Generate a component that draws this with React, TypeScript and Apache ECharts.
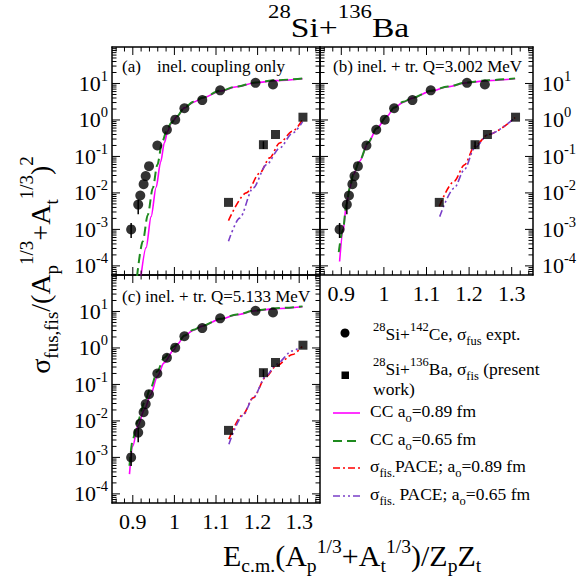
import React, { useEffect, useRef } from 'react';
import * as echarts from 'echarts';

const FONT = "'Liberation Serif', 'Times New Roman', Times, serif";

// ---------- axis ranges and ticks ----------
const X_MIN = 0.85;
const X_MAX = 1.35;
const Y_MIN = Math.pow(10, -4.25);
const Y_MAX = 100;
const X_MAJOR_TICKS = [0.9, 1.0, 1.1, 1.2, 1.3];
const X_MINOR_TICKS = [0.86, 0.88, 0.92, 0.94, 0.96, 0.98, 1.02, 1.04, 1.06, 1.08, 1.12, 1.14, 1.16, 1.18, 1.22, 1.24, 1.26, 1.28, 1.32, 1.34];
const Y_MAJOR_TICKS = [1e-4, 1e-3, 1e-2, 1e-1, 1, 10];
const Y_MINOR_MANTISSA = [2, 3, 4, 5, 6, 7, 8, 9];
const Y_DECADES = [-5, -4, -3, -2, -1, 0, 1];

// ---------- experimental data ----------
// 28Si+142Ce fusion (circles)
const FUS_X = [0.896, 0.913, 0.918, 0.926, 0.931, 0.939, 0.959, 0.982, 1.002, 1.024, 1.067, 1.110, 1.195, 1.237];
const FUS_Y = [1.0e-3, 4.8e-3, 8.5e-3, 1.74e-2, 2.9e-2, 5.4e-2, 0.20, 0.54, 1.02, 2.1, 3.5, 6.5, 10.4, 9.4];
const FUS_ERR_X = [0.896, 0.913];
const FUS_ERR_LO = [5.8e-4, 2.6e-3];
const FUS_ERR_HI = [1.5e-3, 6.5e-3];
// 28Si+136Ba fission (squares)
const FIS_X = [1.130, 1.214, 1.243, 1.309];
const FIS_Y = [5.5e-3, 0.21, 0.40, 1.19];
const FIS_ERR_X = [1.214];
const FIS_ERR_LO = [0.16];
const FIS_ERR_HI = [0.26];

// ---------- CC calculations ----------
const CC_HI_X = [1.007, 1.024, 1.046, 1.067, 1.110, 1.150, 1.195, 1.245, 1.308];
const CC089_HI_Y = [1.26, 2.14, 3.09, 3.98, 6.17, 8.13, 10.5, 12.0, 13.5];
const CC065_HI_Y = [1.29, 2.19, 3.16, 4.07, 6.3, 8.3, 10.7, 12.3, 13.8];

// panel (a)
const A_CC089_X = [0.919, 0.932, 0.944, 0.956, 0.967, 0.976, 0.984, 0.992];
const A_CC089_Y = [4.47e-5, 3.16e-4, 2.24e-3, 0.0141, 0.0708, 0.24, 0.50, 0.794];
const A_CC065_X = [0.910, 0.924, 0.936, 0.948, 0.959, 0.971, 0.983, 0.993];
const A_CC065_Y = [5.0e-5, 4.7e-4, 2.5e-3, 0.0135, 0.059, 0.26, 0.575, 0.85];
const A_P089_X = [1.130, 1.173, 1.205, 1.229, 1.253, 1.284, 1.308];
const A_P089_Y = [1.74e-3, 0.010, 0.0347, 0.0912, 0.234, 0.49, 1.02];
const A_P065_X = [1.130, 1.157, 1.189, 1.221, 1.253, 1.284, 1.308];
const A_P065_Y = [4.7e-4, 2.04e-3, 0.0135, 0.0589, 0.17, 0.437, 0.89];

// panel (b)
const B_CC089_X = [0.896, 0.904, 0.912, 0.920, 0.928, 0.943, 0.963, 0.983];
const B_CC089_Y = [1.32e-4, 8.7e-4, 4.8e-3, 0.0135, 0.0316, 0.074, 0.234, 0.575];
const B_CC065_X = [0.894, 0.904, 0.912, 0.920, 0.928, 0.943, 0.963, 0.983];
const B_CC065_Y = [2.4e-4, 1.0e-3, 5.0e-3, 0.0138, 0.0316, 0.076, 0.24, 0.59];
const B_P089_X = [1.130, 1.165, 1.189, 1.213, 1.245, 1.308];
const B_P089_Y = [4.3e-3, 0.0209, 0.0589, 0.19, 0.40, 1.17];
const B_P065_X = [1.131, 1.165, 1.189, 1.213, 1.245, 1.308];
const B_P065_Y = [2.24e-3, 0.0135, 0.0437, 0.17, 0.40, 1.17];

// panel (c)
const C_CC089_X = [0.892, 0.900, 0.912, 0.928, 0.943, 0.959, 0.975, 0.999];
const C_CC089_Y = [3.47e-4, 2.04e-3, 7.2e-3, 0.0204, 0.0525, 0.166, 0.389, 0.891];
const C_CC065_X = [0.892, 0.900, 0.912, 0.928, 0.943, 0.959, 0.975, 0.999];
const C_CC065_Y = [5.9e-4, 3.16e-3, 0.010, 0.0316, 0.0813, 0.229, 0.537, 1.10];
const C_P089_X = [1.131, 1.165, 1.189, 1.221, 1.244, 1.284, 1.307];
const C_P089_Y = [3.16e-3, 0.0151, 0.0427, 0.166, 0.316, 0.66, 1.10];
const C_P065_X = [1.131, 1.165, 1.189, 1.221, 1.244, 1.284, 1.296];
const C_P065_Y = [2.29e-3, 0.0141, 0.0427, 0.174, 0.355, 0.83, 0.95];

const PANEL_LABELS = ['inel. coupling only', 'inel. + tr. Q=3.002 MeV', 'inel. + tr. Q=5.133 MeV'];

const PANELS = [
  { cc089: [A_CC089_X, A_CC089_Y], cc065: [A_CC065_X, A_CC065_Y], p089: [A_P089_X, A_P089_Y], p065: [A_P065_X, A_P065_Y] },
  { cc089: [B_CC089_X, B_CC089_Y], cc065: [B_CC065_X, B_CC065_Y], p089: [B_P089_X, B_P089_Y], p065: [B_P065_X, B_P065_Y] },
  { cc089: [C_CC089_X, C_CC089_Y], cc065: [C_CC065_X, C_CC065_Y], p089: [C_P089_X, C_P089_Y], p065: [C_P065_X, C_P065_Y] },
];

const GRIDS = [
  { left: 112, top: 47, width: 208, height: 228 },
  { left: 320, top: 47, width: 213, height: 228 },
  { left: 112, top: 275, width: 208, height: 228 },
];

const MAGENTA = '#ff00ff';
const GREEN = '#1f8a1f';
const RED = '#ff0000';
const PURPLE = '#7a3fc8';
const DASH_GREEN = [9, 5];
const DASH_RED = [7, 3, 2, 3];
const DASH_PURPLE = [7, 3, 2, 3, 2, 3];

const zip = (xs: number[], ys: number[]) => xs.map((x, i) => [x, ys[i]]);

type TickItem = { axis: 'x' | 'y'; v: number; major: boolean };
const TICK_ITEMS: TickItem[] = [];
X_MAJOR_TICKS.forEach((v) => TICK_ITEMS.push({ axis: 'x', v, major: true }));
X_MINOR_TICKS.forEach((v) => TICK_ITEMS.push({ axis: 'x', v, major: false }));
Y_MAJOR_TICKS.forEach((v) => TICK_ITEMS.push({ axis: 'y', v, major: true }));
Y_DECADES.forEach((d) =>
  Y_MINOR_MANTISSA.forEach((m) => {
    const v = m * Math.pow(10, d);
    if (v > Y_MIN && v < Y_MAX) TICK_ITEMS.push({ axis: 'y', v, major: false });
  })
);

const xFmt = (v: number) => {
  const t = Math.round(v * 10);
  if (Math.abs(v * 10 - t) > 1e-6) return '';
  return String(t / 10);
};
const yFmt = (v: number) => {
  const e = Math.log10(v);
  const r = Math.round(e);
  if (Math.abs(e - r) > 1e-3 || r >= 2) return '';
  return `{m|10}{s|${r}}`;
};
const Y_RICH = {
  m: { fontSize: 22, fontFamily: FONT, color: '#000', verticalAlign: 'middle' },
  s: { fontSize: 14.5, fontFamily: FONT, color: '#000', verticalAlign: 'middle', padding: [0, 0, 15, 0] },
};

function buildOption() {
  const xAxis: any[] = [];
  const yAxis: any[] = [];
  const series: any[] = [];
  const axisLine = { show: true, onZero: false, lineStyle: { color: '#000', width: 1.5 } };

  for (let g = 0; g < 3; g++) {
    const xBase = {
      type: 'value', gridIndex: g, min: X_MIN, max: X_MAX, axisLine,
      axisTick: { show: false }, splitLine: { show: false },
    };
    xAxis.push({
      ...xBase, position: 'bottom',
      axisLabel: { show: g !== 0, formatter: xFmt, color: '#000', fontSize: 22, fontFamily: FONT, margin: 7 },
    });
    xAxis.push({ ...xBase, position: 'top', axisLabel: { show: false } });
    const yBase = {
      type: 'log', logBase: 10, gridIndex: g, min: Y_MIN, max: Y_MAX, axisLine,
      axisTick: { show: false }, splitLine: { show: false },
    };
    yAxis.push({
      ...yBase, position: 'left',
      axisLabel: { show: g !== 1, formatter: yFmt, rich: Y_RICH, margin: 4 },
    });
    yAxis.push({
      ...yBase, position: 'right',
      axisLabel: { show: g === 1, formatter: yFmt, rich: Y_RICH, margin: 9 },
    });

    const ax = { xAxisIndex: 2 * g, yAxisIndex: 2 * g };
    const p = PANELS[g];
    const lineBase = { type: 'line', ...ax, showSymbol: false, symbol: 'none', smooth: 0.3, smoothMonotone: 'x', silent: true, z: 2 };
    series.push({
      ...lineBase, name: 'CC 0.89',
      data: zip([...p.cc089[0], ...CC_HI_X], [...p.cc089[1], ...CC089_HI_Y]),
      lineStyle: { color: MAGENTA, width: 1.6, type: 'solid' },
    });
    series.push({
      ...lineBase, name: 'CC 0.65',
      data: zip([...p.cc065[0], ...CC_HI_X], [...p.cc065[1], ...CC065_HI_Y]),
      lineStyle: { color: GREEN, width: 2, type: DASH_GREEN },
    });
    series.push({
      ...lineBase, name: 'PACE 0.89',
      data: zip(p.p089[0], p.p089[1]),
      lineStyle: { color: RED, width: 1.6, type: DASH_RED },
    });
    series.push({
      ...lineBase, name: 'PACE 0.65',
      data: zip(p.p065[0], p.p065[1]),
      lineStyle: { color: PURPLE, width: 1.6, type: DASH_PURPLE },
    });
    series.push({
      type: 'custom', ...ax, silent: true, z: 3,
      encode: { x: 0, y: [1, 2] },
      data: [
        ...FUS_ERR_X.map((x, i) => [x, FUS_ERR_LO[i], FUS_ERR_HI[i]]),
        ...FIS_ERR_X.map((x, i) => [x, FIS_ERR_LO[i], FIS_ERR_HI[i]]),
      ],
      renderItem: (params: any, api: any) => {
        const x = api.value(0);
        const a = api.coord([x, api.value(1)]);
        const b = api.coord([x, api.value(2)]);
        return { type: 'line', shape: { x1: a[0], y1: a[1], x2: b[0], y2: b[1] }, style: { stroke: '#000', lineWidth: 1.5 } };
      },
    });
    series.push({
      type: 'scatter', ...ax, silent: true, z: 4, symbol: 'circle', symbolSize: 10,
      itemStyle: { color: '#000' }, data: zip(FUS_X, FUS_Y),
    });
    series.push({
      type: 'scatter', ...ax, silent: true, z: 4, symbol: 'rect', symbolSize: 9,
      itemStyle: { color: '#000' }, data: zip(FIS_X, FIS_Y),
    });
    series.push({
      type: 'custom', ...ax, silent: true, z: 5,
      encode: { x: 0, y: 1 },
      data: TICK_ITEMS.map((t) => (t.axis === 'x' ? [t.v, Y_MIN] : [X_MIN, t.v])),
      renderItem: (params: any, api: any) => {
        const t = TICK_ITEMS[params.dataIndex];
        const len = t.major ? 8 : 4.5;
        const st = { stroke: '#000', lineWidth: 1 };
        if (t.axis === 'x') {
          const b = api.coord([t.v, Y_MIN]);
          const u = api.coord([t.v, Y_MAX]);
          return {
            type: 'group', children: [
              { type: 'line', shape: { x1: b[0], y1: b[1], x2: b[0], y2: b[1] - len }, style: st },
              { type: 'line', shape: { x1: u[0], y1: u[1], x2: u[0], y2: u[1] + len }, style: st },
            ],
          };
        }
        const l = api.coord([X_MIN, t.v]);
        const r = api.coord([X_MAX, t.v]);
        return {
          type: 'group', children: [
            { type: 'line', shape: { x1: l[0], y1: l[1], x2: l[0] + len, y2: l[1] }, style: st },
            { type: 'line', shape: { x1: r[0], y1: r[1], x2: r[0] - len, y2: r[1] }, style: st },
          ],
        };
      },
    });
  }

  const txt = (x: number, y: number, text: string, rich: any, extra: any = {}) => ({
    type: 'text', x, y, silent: true, ...extra,
    style: { text, rich, align: 'left', verticalAlign: 'middle', fill: '#000', font: `18px ${FONT}` },
  });
  const mkRich = (main: number, small: number, raise: number, drop: number) => ({
    m: { fontSize: main, fontFamily: FONT, fill: '#000', verticalAlign: 'middle' },
    sup: { fontSize: small, fontFamily: FONT, fill: '#000', verticalAlign: 'middle', padding: [0, 0, raise * 2, 0] },
    sub: { fontSize: small, fontFamily: FONT, fill: '#000', verticalAlign: 'middle', padding: [drop * 2, 0, 0, 0] },
  });
  const titleRich = mkRich(28, 19, 15, 10);
  const xTitleRich = mkRich(29, 19, 9, 10);
  const yTitleRich = mkRich(28, 19, 14, 11);
  const legRich = mkRich(17.5, 12.5, 7, 7);
  const panelRich = mkRich(17, 12, 6, 6);

  const graphic: any[] = [
    txt(268, 27, '{sup|28}{m|Si+}{sup|136}{m|Ba}', titleRich, { scaleX: 1.2 }),
    txt(223, 556, '{m|E}{sub|c.m.}{m|(A}{sub|p}{sup|1/3}{m|+A}{sub|t}{sup|1/3}{m|)/Z}{sub|p}{m|Z}{sub|t}', xTitleRich, { scaleX: 1.035 }),
    {
      type: 'text', x: 40, y: 265, rotation: Math.PI / 2, silent: true,
      style: {
        text: '{m|σ}{sub|fus,fis}{m|/(A}{sub|p}{sup|1/3}{m|+A}{sub|t}{sup|1/3}{m|)}{sup|2}',
        rich: yTitleRich, align: 'center', verticalAlign: 'middle', fill: '#000', font: `28px ${FONT}`,
      },
    },
    txt(122, 66, '{m|(a)}', panelRich),
    txt(157, 66, `{m|${PANEL_LABELS[0]}}`, panelRich),
    txt(333, 66, `{m|(b) ${PANEL_LABELS[1]}}`, panelRich),
    txt(122, 296, `{m|(c) ${PANEL_LABELS[2]}}`, panelRich),
    // legend
    { type: 'circle', silent: true, shape: { cx: 345, cy: 333, r: 4.5 }, style: { fill: '#000' } },
    txt(373, 334, '{sup|28}{m|Si+}{sup|142}{m|Ce, σ}{sub|fus}{m| expt.}', legRich),
    { type: 'rect', silent: true, shape: { x: 341.5, y: 371.5, width: 7.5, height: 7.5 }, style: { fill: '#000' } },
    txt(373, 369, '{sup|28}{m|Si+}{sup|136}{m|Ba, σ}{sub|fis}{m| (present}', legRich),
    txt(373, 389, '{m|work)}', legRich),
    { type: 'line', silent: true, shape: { x1: 333, y1: 413, x2: 360, y2: 413 }, style: { stroke: MAGENTA, lineWidth: 1.6 } },
    txt(370, 411, '{m|CC a}{sub|o}{m|=0.89 fm}', legRich),
    { type: 'line', silent: true, shape: { x1: 333, y1: 441, x2: 360, y2: 441 }, style: { stroke: GREEN, lineWidth: 2, lineDash: DASH_GREEN } },
    txt(370, 439, '{m|CC a}{sub|o}{m|=0.65 fm}', legRich),
    { type: 'line', silent: true, shape: { x1: 333, y1: 468, x2: 360, y2: 468 }, style: { stroke: RED, lineWidth: 1.6, lineDash: DASH_RED } },
    txt(370, 466, '{m|σ}{sub|fis.}{m|PACE; a}{sub|o}{m|=0.89 fm}', legRich),
    { type: 'line', silent: true, shape: { x1: 333, y1: 496, x2: 360, y2: 496 }, style: { stroke: PURPLE, lineWidth: 1.6, lineDash: DASH_PURPLE } },
    txt(370, 494, '{m|σ}{sub|fis.}{m| PACE; a}{sub|o}{m|=0.65 fm}', legRich),
  ];

  return {
    animation: false,
    backgroundColor: '#ffffff',
    grid: GRIDS.map((g) => ({ ...g, containLabel: false })),
    xAxis,
    yAxis,
    series,
    graphic,
  };
}

export default function App() {
  const ref = useRef<HTMLDivElement>(null);
  useEffect(() => {
    document.body.style.margin = '0';
    if (!ref.current) return;
    const chart = echarts.init(ref.current, undefined, { renderer: 'svg' });
    chart.setOption(buildOption() as any);
    return () => chart.dispose();
  }, []);
  return <div ref={ref} style={{ width: 587, height: 583 }} />;
}
